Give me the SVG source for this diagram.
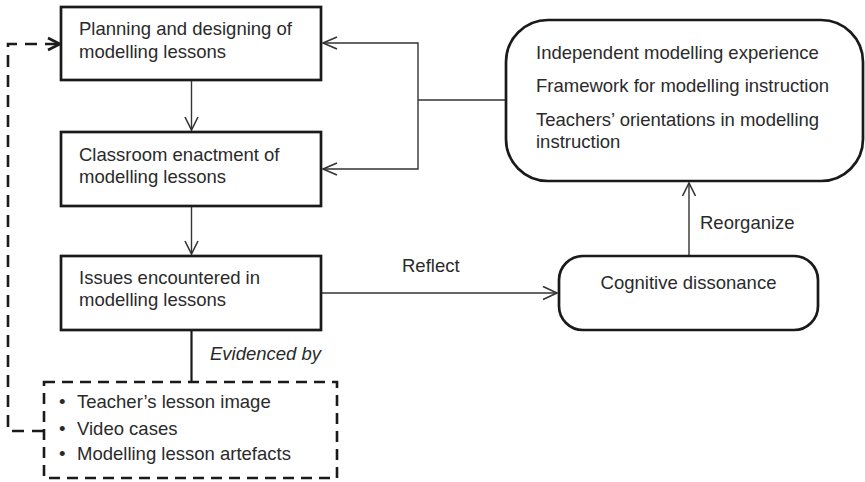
<svg xmlns="http://www.w3.org/2000/svg" width="865" height="482" viewBox="0 0 865 482">
<style>
text{font-family:"Liberation Sans",Arial,sans-serif;font-size:18.5px;fill:#2a2a2a}
.box{fill:#fff;stroke:#1a1a1a;stroke-width:2.7}
.dbox{fill:#fff;stroke:#1a1a1a;stroke-width:2.6;stroke-dasharray:11 7}
.ln{fill:none;stroke:#333;stroke-width:1.4}
.ah{fill:none;stroke:#333;stroke-width:1.6}
.dl{fill:none;stroke:#1a1a1a;stroke-width:2.6;stroke-dasharray:12 8}
</style>
<rect width="865" height="482" fill="#fff"/>
<g id="connectors">
  <!-- box1 -> box2 -->
  <line class="ln" x1="191.5" y1="80" x2="191.5" y2="130"/>
  <polyline class="ah" points="185,117 191.5,130 198,117"/>
  <!-- box2 -> box3 -->
  <line class="ln" x1="191.5" y1="206" x2="191.5" y2="254"/>
  <polyline class="ah" points="185,241 191.5,254 198,241"/>
  <!-- right box -> box1/box2 -->
  <polyline class="ln" points="506,100 418,100"/>
  <polyline class="ln" points="323,43 418,43 418,169 323,169"/>
  <polyline class="ah" points="337,37 323,43 337,49"/>
  <polyline class="ah" points="337,163 323,169 337,175"/>
  <!-- reflect -->
  <line class="ln" x1="321" y1="293" x2="557" y2="293"/>
  <polyline class="ah" points="543,286.5 557,293 543,299.5"/>
  <text x="402" y="272">Reflect</text>
  <!-- reorganize -->
  <line class="ln" x1="689" y1="256" x2="689" y2="183"/>
  <polyline class="ah" points="682.5,196 689,183 695.5,196"/>
  <text x="700" y="229">Reorganize</text>
  <!-- evidenced by -->
  <line x1="191.5" y1="330" x2="191.5" y2="382" stroke="#1a1a1a" stroke-width="2.2"/>
  <text x="210" y="360" font-style="italic">Evidenced by</text>
  <!-- dashed feedback -->
  <polyline class="dl" points="44,431 8,431 8,44 57,44"/>
  <polyline fill="none" stroke="#1a1a1a" stroke-width="2.6" points="48,38 60,44 48,50"/>
</g>
<g id="node-planning">
  <rect class="box" x="61" y="7" width="260" height="73"/>
  <text x="79" y="35">Planning and designing of</text>
  <text x="79" y="58">modelling lessons</text>
</g>
<g id="node-classroom">
  <rect class="box" x="61" y="132" width="260" height="74"/>
  <text x="79" y="161">Classroom enactment of</text>
  <text x="79" y="183">modelling lessons</text>
</g>
<g id="node-issues">
  <rect class="box" x="61" y="256" width="260" height="74"/>
  <text x="79" y="284">Issues encountered in</text>
  <text x="79" y="306">modelling lessons</text>
</g>
<g id="node-evidence">
  <rect class="dbox" x="44" y="382" width="293" height="96"/>
  <text x="59" y="408">•</text><text x="77" y="408">Teacher’s lesson image</text>
  <text x="59" y="435">•</text><text x="77" y="435">Video cases</text>
  <text x="59" y="460">•</text><text x="77" y="460">Modelling lesson artefacts</text>
</g>
<g id="node-knowledge">
  <rect class="box" x="506" y="20" width="357" height="161" rx="42" ry="42"/>
  <text x="536" y="59">Independent modelling experience</text>
  <text x="536" y="92">Framework for modelling instruction</text>
  <text x="536" y="126">Teachers’ orientations in modelling</text>
  <text x="536" y="148">instruction</text>
</g>
<g id="node-dissonance">
  <rect class="box" x="559" y="256" width="259" height="74" rx="24" ry="24"/>
  <text x="688.5" y="289" text-anchor="middle">Cognitive dissonance</text>
</g>
</svg>
